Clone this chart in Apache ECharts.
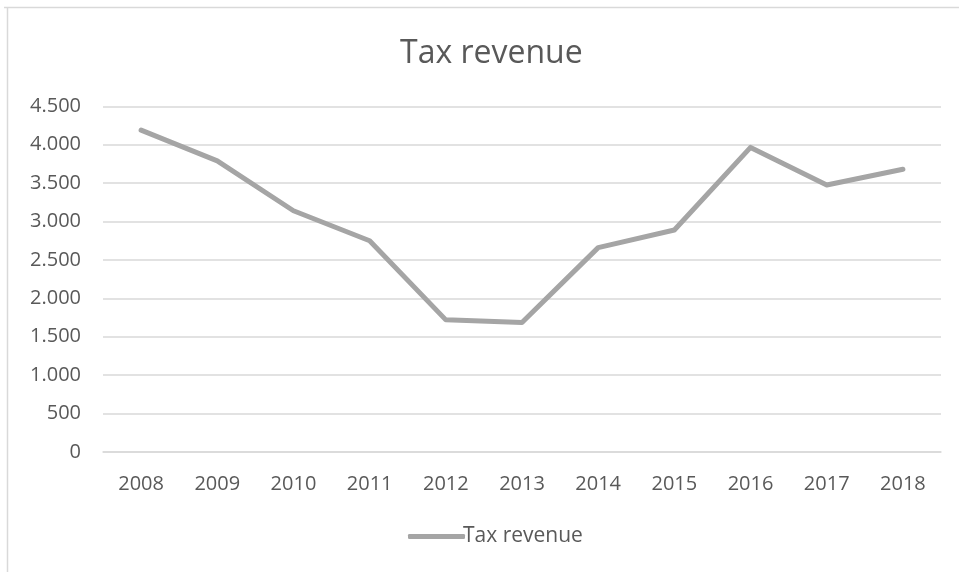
<!DOCTYPE html>
<html>
<head>
<meta charset="utf-8">
<script src="https://cdn.jsdelivr.net/npm/echarts@6/dist/echarts.min.js"></script>
<style>
html,body{margin:0;padding:0;background:#fff;}
#c{width:959px;height:572px;}
</style>
</head>
<body>
<div id="c"></div>
<script>
var categories = ['2008','2009','2010','2011','2012','2013','2014','2015','2016','2017','2018'];
var taxRevenue = [4190, 3790, 3140, 2750, 1720, 1685, 2660, 2890, 3965, 3475, 3680];
var seriesName = 'Tax revenue';
var titleText = 'Tax revenue';

var chart = echarts.init(document.getElementById('c'), null, {renderer:'canvas'});
var fontFam = '"Open Sans", "Noto Sans", sans-serif';
function fmt(v){ return String(v).replace(/\B(?=(\d{3})+(?!\d))/g, '.'); }
chart.setOption({
  animation:false,
  backgroundColor:'#fff',
  title:{text:titleText,left:395,top:33,textStyle:{fontFamily:fontFam,fontSize:32,fontWeight:'normal',color:'#595959'}},
  graphic:[
    {type:'line',shape:{x1:4,y1:7.5,x2:959,y2:7.5},style:{stroke:'#d9d9d9',lineWidth:1.5},silent:true},
    {type:'line',shape:{x1:7.5,y1:7,x2:7.5,y2:572},style:{stroke:'#d9d9d9',lineWidth:1.5},silent:true}
  ],
  legend:{bottom:20,left:403,itemWidth:57,itemHeight:5,itemGap:10,
    icon:'roundRect',
    textStyle:{fontFamily:fontFam,fontSize:21,color:'#595959',padding:[0,0,0,-7]},
    data:[seriesName]},
  grid:{left:103,right:18,top:106.3,bottom:120,containLabel:false},
  xAxis:{type:'category',data:categories,boundaryGap:true,
    axisLine:{show:true,lineStyle:{color:'#d9d9d9',width:1.5}},
    axisTick:{show:false},
    axisLabel:{fontFamily:fontFam,fontSize:20,color:'#595959',margin:22}},
  yAxis:{type:'value',min:0,max:4500,interval:500,
    axisLine:{show:false},axisTick:{show:false},
    splitLine:{lineStyle:{color:'#d9d9d9',width:1.5}},
    axisLabel:{fontFamily:fontFam,fontSize:20,color:'#595959',margin:22,formatter:fmt}},
  series:[{name:seriesName,type:'line',data:taxRevenue,symbol:'none',
    lineStyle:{color:'#a5a5a5',width:5,cap:'round',join:'round'},
    itemStyle:{color:'#a5a5a5'}}]
});
</script>
</body>
</html>
